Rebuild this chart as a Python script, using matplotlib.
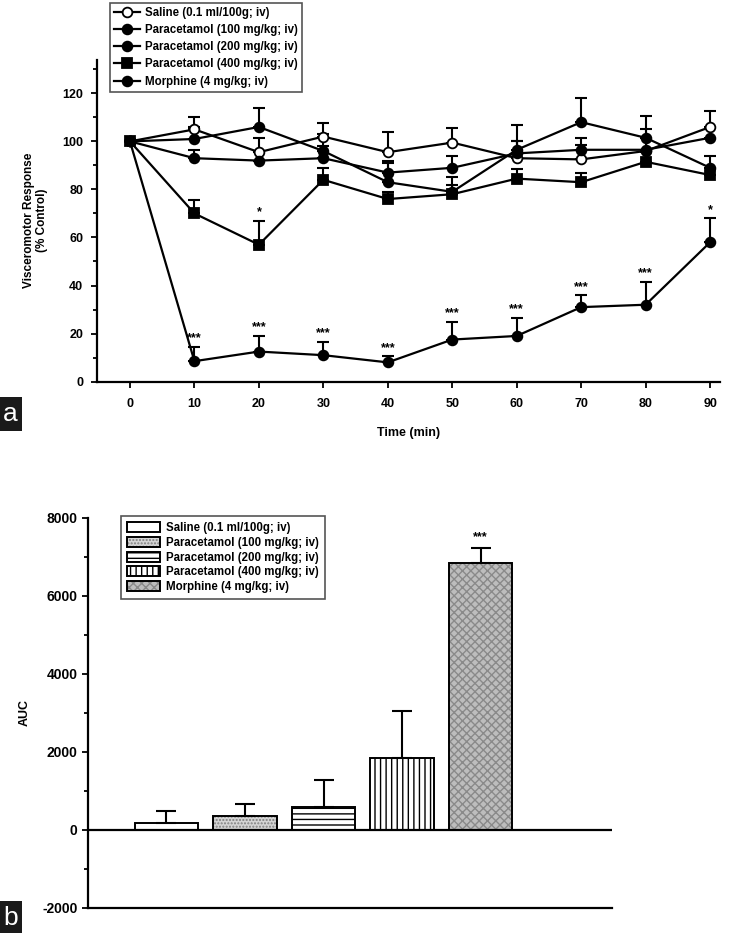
import matplotlib.pyplot as plt
from matplotlib.ticker import MultipleLocator

plt.rcParams['font.family'] = ['Liberation Sans', 'DejaVu Sans']
plt.rcParams['font.weight'] = 'bold'
plt.rcParams['axes.labelweight'] = 'bold'
plt.rcParams['axes.unicode_minus'] = False
plt.rcParams['hatch.linewidth'] = 1.0

# panel a: visceromotor response over time
time = [0, 10, 20, 30, 40, 50, 60, 70, 80, 90]
saline = [100, 105, 95.5, 102, 95.5, 99.5, 93, 92.5, 96, 106]
saline_err = [0, 5, 6, 5.5, 8.5, 6, 7, 6, 9, 6.5]
para100 = [100, 101, 106, 96, 83, 79, 96.5, 108, 101.5, 89]
para100_err = [0, 5, 8, 7, 8, 6, 10.5, 10, 9, 5]
para200 = [100, 93, 92, 93, 87, 89, 95, 96.5, 96.5, 101.5]
para200_err = [0, 3.5, 4, 5, 5, 5, 5, 5, 5, 4]
para400 = [100, 70, 57, 84, 76, 78, 84.5, 83, 91.5, 86]
para400_err = [0, 5.5, 10, 5, 3, 4, 4, 4, 4, 3]
morphine = [100, 8.5, 12.5, 11, 8, 17.5, 19, 31, 32, 58]
morphine_err = [0, 6, 6.5, 5.5, 2.5, 7.5, 7.5, 5, 9.5, 10]
morphine_sig = ['', '***', '***', '***', '***', '***', '***', '***', '***', '*']
para400_sig = ['', '', '*', '', '', '', '', '', '', '']

labels = ['Saline (0.1 ml/100g; iv)', 'Paracetamol (100 mg/kg; iv)',
          'Paracetamol (200 mg/kg; iv)', 'Paracetamol (400 mg/kg; iv)',
          'Morphine (4 mg/kg; iv)']

# panel b: AUC
auc = [180, 360, 600, 1830, 6850]
auc_err = [310, 310, 680, 1210, 380]
auc_sig = ['', '', '', '', '***']

fig = plt.figure(figsize=(7.3, 9.33), dpi=100)

ax1 = fig.add_axes([0.133, 0.591, 0.853, 0.345])
series = [(saline, saline_err, 'o', 'white'),
          (para100, para100_err, 'o', 'black'),
          (para200, para200_err, 'o', 'black'),
          (para400, para400_err, 's', 'black'),
          (morphine, morphine_err, 'o', 'black')]
handles = []
for (vals, err, mk, fc), lab in zip(series, labels):
    ax1.errorbar(time, vals, yerr=[[0] * len(err), err], fmt='none',
                 ecolor='black', elinewidth=1.5, capsize=4, capthick=1.5, zorder=2)
    h, = ax1.plot(time, vals, color='black', lw=1.6, marker=mk, ms=7,
                  mfc=fc, mec='black', mew=1.3, label=lab, zorder=3)
    handles.append(h)

for t, v, e, s in zip(time, morphine, morphine_err, morphine_sig):
    if s:
        ax1.text(t, v + e + 1, s, ha='center', va='bottom', fontsize=9)
for t, v, e, s in zip(time, para400, para400_err, para400_sig):
    if s:
        ax1.text(t, v + e + 1, s, ha='center', va='bottom', fontsize=9)

ax1.set_xlim(-5.1, 91.5)
ax1.set_ylim(0, 134)
ax1.set_xticks(time)
ax1.yaxis.set_major_locator(MultipleLocator(20))
ax1.yaxis.set_minor_locator(MultipleLocator(10))
ax1.set_yticks(range(0, 121, 20))
ax1.spines['top'].set_visible(False)
ax1.spines['right'].set_visible(False)
ax1.spines['left'].set_linewidth(1.6)
ax1.spines['bottom'].set_linewidth(1.6)
ax1.tick_params(which='both', direction='out', width=1.3, labelsize=9)
ax1.tick_params(which='major', length=4)
ax1.tick_params(which='minor', length=3)
ax1.tick_params(axis='x', pad=8)
ax1.tick_params(axis='y', pad=6)
ax1.set_xlabel('Time (min)', fontsize=9, labelpad=12)
ax1.set_ylabel('Visceromotor Response\n(% Control)', fontsize=8.5, labelpad=10)

leg1 = ax1.legend(handles=handles, loc='upper left', bbox_to_anchor=(0.151, 0.997),
                  bbox_transform=fig.transFigure, fontsize=8.3, fancybox=False,
                  edgecolor='#555555', handlelength=2.2, handletextpad=0.5,
                  borderpad=0.35, labelspacing=0.45, framealpha=1,
                  borderaxespad=0)
leg1.get_frame().set_linewidth(1.2)

ax2 = fig.add_axes([0.1205, 0.0268, 0.7175, 0.4184])
pos = list(range(len(auc)))
styles = [('white', '', 'black'),
          ('#d4d4d4', '.....', '#808080'),
          ('white', '---', 'black'),
          ('white', '|||', 'black'),
          ('#bdbdbd', 'xxxx', '#8a8a8a')]
handles2 = []
for p, v, (fc, hatch, hc) in zip(pos, auc, styles):
    fill = ax2.bar(p, v, width=0.81, color=fc, hatch=hatch, edgecolor=hc,
                   linewidth=0, zorder=2)
    outline = ax2.bar(p, v, width=0.81, fill=False, edgecolor='black',
                      linewidth=1.4, zorder=3)
    handles2.append((fill[0], outline[0]))
ax2.errorbar(pos, auc, yerr=[[0] * len(auc_err), auc_err], fmt='none',
             ecolor='black', elinewidth=1.5, capsize=7, capthick=1.5, zorder=4)
for p, v, e, s in zip(pos, auc, auc_err, auc_sig):
    if s:
        ax2.text(p, v + e + 120, s, ha='center', va='bottom', fontsize=9)

ax2.axhline(0, color='black', lw=1.6, zorder=5)
ax2.set_xlim(-1.0, 5.67)
ax2.set_ylim(-2000, 8000)
ax2.set_xticks([])
ax2.yaxis.set_major_locator(MultipleLocator(2000))
ax2.yaxis.set_minor_locator(MultipleLocator(1000))
ax2.spines['top'].set_visible(False)
ax2.spines['right'].set_visible(False)
ax2.spines['left'].set_linewidth(1.6)
ax2.spines['bottom'].set_linewidth(1.6)
ax2.tick_params(which='both', direction='out', width=1.3, labelsize=10)
ax2.tick_params(which='major', length=4)
ax2.tick_params(which='minor', length=3)
ax2.set_ylabel('AUC', fontsize=9, labelpad=8)

leg2 = ax2.legend(handles=handles2, labels=labels, loc='upper left',
                  bbox_to_anchor=(121 / 730, 1 - 516 / 933),
                  bbox_transform=fig.transFigure, fontsize=8.3, fancybox=False,
                  edgecolor='#555555', handlelength=2.9, handleheight=0.95,
                  handletextpad=0.5, borderpad=0.5, labelspacing=0.25, framealpha=1,
                  borderaxespad=0)
leg2.get_frame().set_linewidth(1.2)

# panel letters
fig.text(0.004, 1 - 426 / 933, 'a', color='white', fontsize=19, fontweight='normal',
         ha='left', va='bottom',
         bbox=dict(facecolor='#1a1a1a', edgecolor='none', pad=3.5))
fig.text(0.004, 0.003, 'b', color='white', fontsize=19, fontweight='normal',
         ha='left', va='bottom',
         bbox=dict(facecolor='#1a1a1a', edgecolor='none', pad=3.5))

fig.savefig('out.png', dpi=100)
